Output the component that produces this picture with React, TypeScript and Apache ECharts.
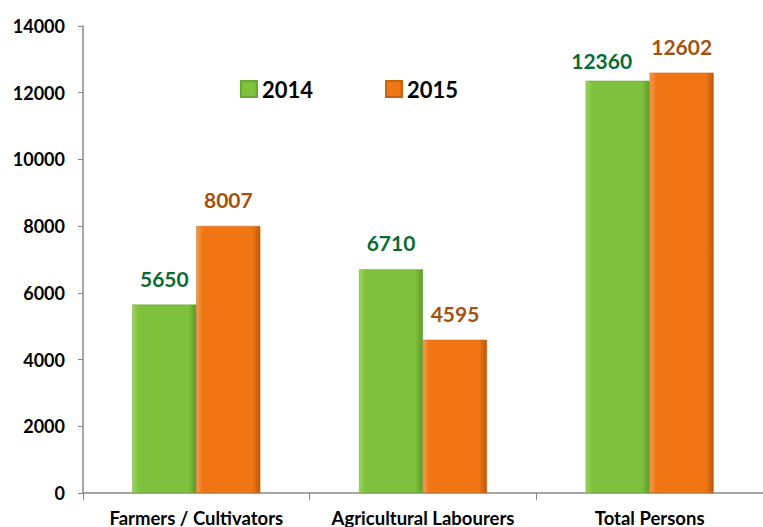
import React, { useEffect, useRef } from "react";
import * as echarts from "echarts";

const categories = ["Farmers / Cultivators", "Agricultural Labourers", "Total Persons"];
const series2014 = [5650, 6710, 12360];
const series2015 = [8007, 4595, 12602];
const seriesNames = ["2014", "2015"];
const yTicks = [0, 2000, 4000, 6000, 8000, 10000, 12000, 14000];

const FONT = "Lato, 'Open Sans', sans-serif";

function grad(light: string, mid: string, dark: string) {
  return new echarts.graphic.LinearGradient(0, 0, 1, 0, [
    { offset: 0, color: light },
    { offset: 0.1, color: mid },
    { offset: 0.88, color: mid },
    { offset: 1, color: dark },
  ]);
}

export default function App() {
  const ref = useRef<HTMLDivElement>(null);
  useEffect(() => {
    if (!ref.current) return;
    const chart = echarts.init(ref.current, null, { renderer: "svg" });
    chart.setOption({
      animation: false,
      backgroundColor: "#ffffff",
      legend: {
        left: 235,
        top: 73,
        itemWidth: 16,
        itemHeight: 16,
        itemGap: 72,
        icon: "rect",
        textStyle: { fontFamily: FONT, fontWeight: "bold", fontSize: 22, color: "#000" },
        data: seriesNames,
      },
      grid: { left: 83, right: -4, top: 26, bottom: 34, containLabel: false },
      xAxis: {
        type: "category",
        data: categories,
        axisLine: { lineStyle: { color: "#888", width: 1.5 } },
        axisTick: { show: true, length: 7, lineStyle: { color: "#888" } },
        axisLabel: {
          fontFamily: FONT,
          fontWeight: "bold",
          fontSize: 18.5,
          color: "#000",
          margin: 15,
          interval: 0,
        },
      },
      yAxis: {
        type: "value",
        min: yTicks[0],
        max: yTicks[yTicks.length - 1],
        interval: 2000,
        axisLine: { show: true, lineStyle: { color: "#888", width: 1.5 } },
        axisTick: { show: true, length: 5, lineStyle: { color: "#888" } },
        splitLine: { show: false },
        axisLabel: {
          fontFamily: FONT,
          fontWeight: "bold",
          fontSize: 18,
          color: "#000",
          margin: 18,
          formatter: (v: number) => String(v),
        },
      },
      series: [
        {
          name: seriesNames[0],
          type: "bar",
          data: series2014.map((v, i) => ({
            value: v,
            label: i === 2 ? { distance: 10, offset: [-16, 0] } : undefined,
          })),
          barWidth: 64,
          barGap: "0%",
          itemStyle: {
            color: grad("#9ad45a", "#7fc13c", "#5e9a2a"),
            borderColor: "#6aa832",
            borderWidth: 0.5,
          },
          label: {
            show: true,
            position: "top",
            distance: 16,
            fontFamily: FONT,
            fontWeight: "bold",
            fontSize: 21,
            color: "#0b6b35",
          },
        },
        {
          name: seriesNames[1],
          type: "bar",
          data: series2015,
          barWidth: 64,
          barGap: "0%",
          itemStyle: {
            color: grad("#f59a4a", "#f07515", "#b85a0c"),
            borderColor: "#c8620f",
            borderWidth: 0.5,
          },
          label: {
            show: true,
            position: "top",
            distance: 16,
            fontFamily: FONT,
            fontWeight: "bold",
            fontSize: 21,
            color: "#a3520d",
          },
        },
      ],
    });
    return () => chart.dispose();
  }, []);
  return (
    <div
      ref={ref}
      style={{ position: "fixed", left: 0, top: 0, width: 763, height: 527 }}
    />
  );
}
